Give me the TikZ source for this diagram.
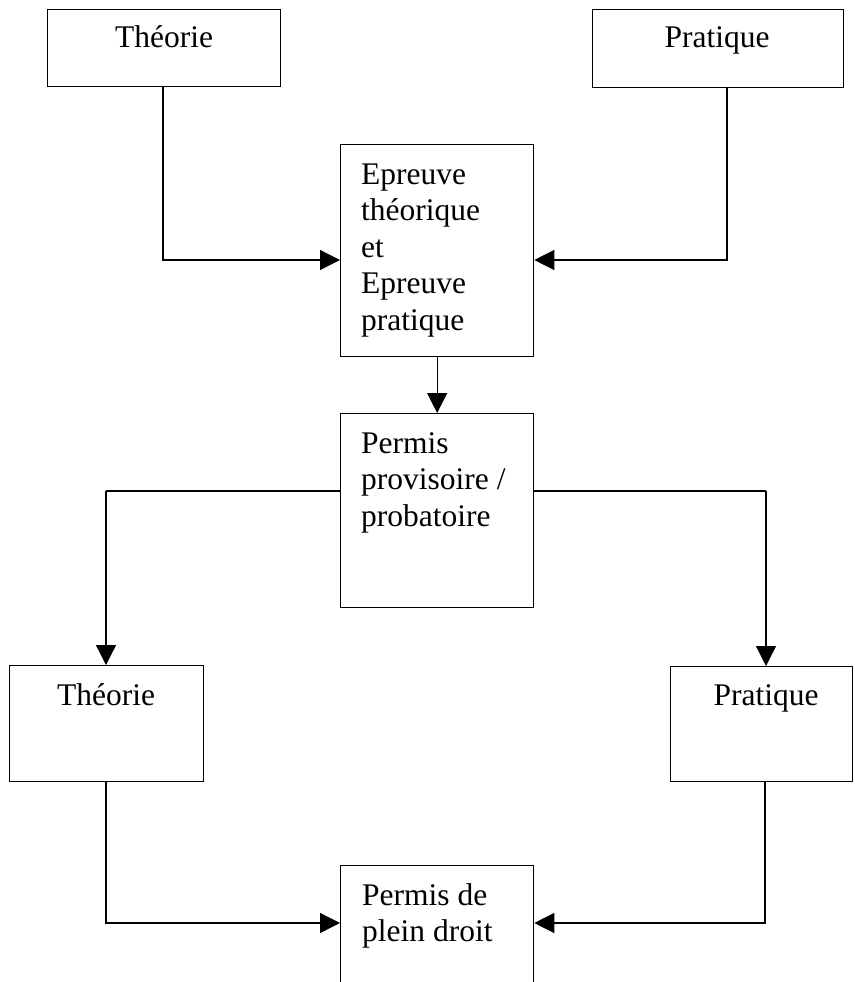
\documentclass[tikz,border=0pt]{standalone}
\usepackage{fontspec}
\setmainfont{Liberation Serif}
\usetikzlibrary{arrows.meta}
\begin{document}
\begin{tikzpicture}[x=1pt,y=-1pt,
  box/.style={draw,line width=1.3pt,inner sep=0pt,anchor=north west},
  txt/.style={inner sep=0pt,font=\fontsize{31.5}{36.5}\selectfont},
  conn/.style={line width=1.3pt,-{Triangle[length=20pt,width=20pt]}},
  plain/.style={line width=1.3pt}]
\useasboundingbox (0,0) rectangle (854,982);
\clip (0,0) rectangle (854,982);
% boxes
\node[box,minimum width=233pt,minimum height=77pt] (theo1) at (47,9) {};
\node[box,minimum width=251pt,minimum height=78pt] (prat1) at (592,9) {};
\node[box,minimum width=193pt,minimum height=212pt] (epr) at (340,144) {};
\node[box,minimum width=193pt,minimum height=194pt] (prov) at (340,413) {};
\node[box,minimum width=194pt,minimum height=116pt] (theo2) at (9,665) {};
\node[box,minimum width=182pt,minimum height=115pt] (prat2) at (670,666) {};
\node[box,minimum width=193pt,minimum height=140pt] (pd) at (340,865) {};
% texts (multi-line: base anchor is the last line's baseline)
\node[txt,anchor=base] (t1) at (164,48) {Théorie};
\node[txt,anchor=base] (t2) at (717,48) {Pratique};
\node[txt,anchor=base west,align=left] (t3) at (361,330) {Epreuve\\théorique\\et\\Epreuve\\pratique};
\node[txt,anchor=base west,align=left] (t4) at (361,526) {Permis\\provisoire /\\probatoire};
\node[txt,anchor=base] (t5) at (106,705) {Théorie};
\node[txt,anchor=base] (t6) at (766,705) {Pratique};
\node[txt,anchor=base west,align=left] (t7) at (362,941.5) {Permis de\\plein droit};
% connectors
\coordinate (c1) at (163,260);
\coordinate (c2) at (727,260);
\coordinate (c3) at (106,491);
\coordinate (c4) at (766,491);
\coordinate (c5) at (106,923);
\coordinate (c6) at (765,923);
\draw[conn] (theo1.south -| c1) |- (epr.west |- c1);
\draw[conn] (prat1.south -| c2) |- (epr.east |- c2);
\draw[conn] (epr.south) -- (prov.north);
\draw[plain] (prov.west |- c3) -- (c3);
\draw[conn] (c3) -- (theo2.north -| c3);
\draw[plain] (prov.east |- c4) -- (c4);
\draw[conn] (c4) -- (prat2.north -| c4);
\draw[conn] (theo2.south -| c5) |- (pd.west |- c5);
\draw[conn] (prat2.south -| c6) |- (pd.east |- c6);
\end{tikzpicture}
\end{document}
